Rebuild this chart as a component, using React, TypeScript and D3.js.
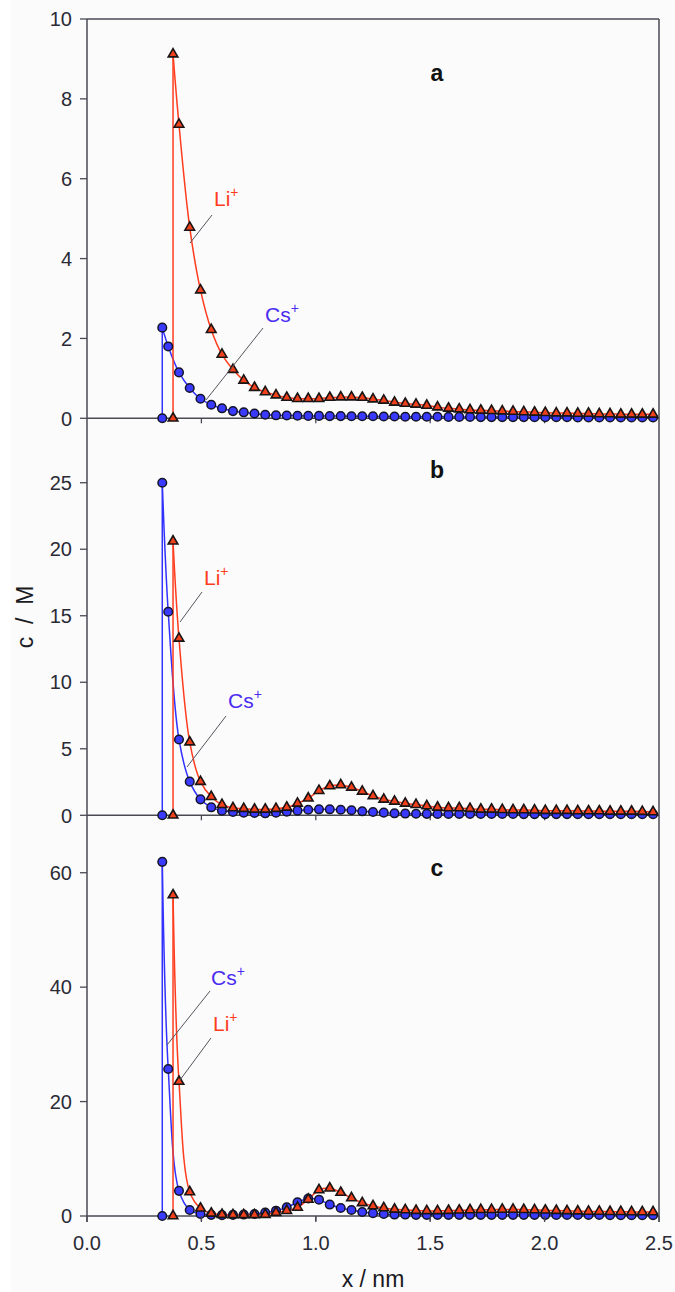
import React from 'react';
import * as d3 from 'd3';

// x positions (nm) of the regular sampling grid
const gridX = [0.402, 0.449, 0.496, 0.543, 0.590, 0.638, 0.685, 0.732, 0.779, 0.826,
  0.873, 0.920, 0.967, 1.014, 1.061, 1.109, 1.156, 1.203, 1.250, 1.297,
  1.344, 1.391, 1.438, 1.485, 1.532, 1.580, 1.627, 1.674, 1.721, 1.768,
  1.815, 1.862, 1.909, 1.956, 2.003, 2.051, 2.098, 2.145, 2.192, 2.239,
  2.286, 2.333, 2.380, 2.427, 2.474];
// first points before the grid (contact wall + peak)
const csHeadX = [0.329, 0.329, 0.355];
const liHeadX = [0.376, 0.376];

// panel a
const aCsHead = [0, 2.27, 1.8];
const aCs = [1.15, 0.76, 0.49, 0.34, 0.25, 0.18, 0.15, 0.12, 0.09, 0.075,
  0.07, 0.065, 0.06, 0.06, 0.055, 0.055, 0.05, 0.05, 0.05, 0.045,
  0.045, 0.04, 0.04, 0.04, 0.04, 0.035, 0.035, 0.035, 0.03, 0.03,
  0.03, 0.03, 0.03, 0.025, 0.025, 0.025, 0.025, 0.02, 0.02, 0.02,
  0.02, 0.02, 0.02, 0.02, 0.02];
const aLiHead = [0, 9.12];
const aLi = [7.36, 4.78, 3.21, 2.22, 1.6, 1.22, 0.95, 0.77, 0.66, 0.58,
  0.52, 0.49, 0.49, 0.49, 0.52, 0.53, 0.53, 0.52, 0.48, 0.45,
  0.40, 0.37, 0.35, 0.32, 0.28, 0.25, 0.23, 0.21, 0.2, 0.19,
  0.18, 0.17, 0.16, 0.15, 0.14, 0.13, 0.13, 0.12, 0.12, 0.11,
  0.11, 0.1, 0.1, 0.1, 0.1];

// panel b
const bCsHead = [0, 25.0, 15.3];
const bCs = [5.7, 2.53, 1.2, 0.6, 0.35, 0.25, 0.2, 0.18, 0.15, 0.2,
  0.27, 0.35, 0.42, 0.45, 0.45, 0.42, 0.38, 0.3, 0.25, 0.2,
  0.15, 0.13, 0.12, 0.11, 0.1, 0.1, 0.1, 0.1, 0.1, 0.1,
  0.1, 0.1, 0.09, 0.09, 0.09, 0.09, 0.09, 0.08, 0.08, 0.08,
  0.08, 0.08, 0.08, 0.08, 0.08];
const bLiHead = [0, 20.6];
const bLi = [13.3, 5.5, 2.53, 1.4, 0.8, 0.55, 0.5, 0.45, 0.45, 0.5,
  0.6, 0.9, 1.28, 1.85, 2.2, 2.28, 2.1, 1.8, 1.45, 1.2,
  1.05, 0.9, 0.8, 0.7, 0.6, 0.55, 0.55, 0.5, 0.45, 0.45,
  0.42, 0.4, 0.4, 0.38, 0.35, 0.35, 0.35, 0.33, 0.32, 0.32,
  0.3, 0.3, 0.3, 0.28, 0.25];

// panel c
const cCsHead = [0, 61.9, 25.7];
const cCs = [4.4, 1.05, 0.35, 0.2, 0.15, 0.2, 0.25, 0.35, 0.6, 0.93,
  1.5, 2.4, 3.05, 2.85, 2.0, 1.4, 1.05, 0.7, 0.5, 0.35,
  0.25, 0.25, 0.2, 0.2, 0.2, 0.2, 0.2, 0.2, 0.2, 0.2,
  0.2, 0.2, 0.2, 0.2, 0.2, 0.18, 0.18, 0.18, 0.18, 0.18,
  0.15, 0.15, 0.15, 0.15, 0.15];
const cLiHead = [0, 56.1];
const cLi = [23.5, 4.2, 1.35, 0.47, 0.25, 0.2, 0.2, 0.2, 0.25, 0.6,
  0.93, 1.5, 2.9, 4.55, 4.85, 4.1, 3.15, 2.3, 1.75, 1.4,
  1.17, 1.05, 0.95, 0.9, 0.9, 0.95, 1.0, 1.05, 1.1, 1.1,
  1.15, 1.15, 1.1, 1.05, 1.0, 0.95, 0.9, 0.85, 0.8, 0.8,
  0.75, 0.75, 0.7, 0.7, 0.7];

const aTicks = [0, 2, 4, 6, 8, 10];
const bTicks = [0, 5, 10, 15, 20, 25];
const cTicks = [0, 20, 40, 60];
const xTicks = [0, 0.5, 1.0, 1.5, 2.0, 2.5];

const FONT = '"Liberation Sans", Arial, Helvetica, sans-serif';
const LI_COLOR = '#ff3c1e';
const CS_COLOR = '#3232ff';
const CS_TEXT = '#4a2cf0';

type Pt = [number, number];

const zip = (xs: number[], ys: number[]): Pt[] => xs.map((x, i) => [x, ys[i]]);

const panels = [
  {
    letter: 'a', max: 10, ticks: aTicks, top: 19, zero: 418.3,
    cs: zip(csHeadX.concat(gridX), aCsHead.concat(aCs)),
    li: zip(liHeadX.concat(gridX), aLiHead.concat(aLi)),
    letterY: 81,
    labels: [
      { text: 'Li', color: LI_COLOR, x: 214, y: 206, line: [212, 215, 190, 243] },
      { text: 'Cs', color: CS_TEXT, x: 265, y: 322, line: [263, 328, 206, 400] },
    ],
  },
  {
    letter: 'b', max: 30, ticks: bTicks, top: 416.2, zero: 815.3,
    cs: zip(csHeadX.concat(gridX), bCsHead.concat(bCs)),
    li: zip(liHeadX.concat(gridX), bLiHead.concat(bLi)),
    letterY: 478,
    labels: [
      { text: 'Li', color: LI_COLOR, x: 204, y: 585, line: [202, 592, 180, 622] },
      { text: 'Cs', color: CS_TEXT, x: 228, y: 708, line: [226, 716, 187, 767] },
    ],
  },
  {
    letter: 'c', max: 70, ticks: cTicks, top: 815.5, zero: 1216,
    cs: zip(csHeadX.concat(gridX), cCsHead.concat(cCs)),
    li: zip(liHeadX.concat(gridX), cLiHead.concat(cLi)),
    letterY: 876,
    labels: [
      { text: 'Cs', color: CS_TEXT, x: 211, y: 985, line: [210, 991, 167, 1045] },
      { text: 'Li', color: LI_COLOR, x: 213, y: 1031, line: [211, 1038, 180, 1080] },
    ],
  },
];

const x = d3.scaleLinear().domain([0, 2.5]).range([87, 659]);
const triangle = d3.symbol().type(d3.symbolTriangle).size(40)();

const App = () => {
  const W = 675, H = 1292;
  const axisColor = '#4a4a55';
  const plotTop = panels[0].top;
  const plotBottom = panels[2].zero;

  return (
    <svg width={W} height={H} style={{ position: 'absolute', left: 0, top: 0, display: 'block' }}
      fontFamily={FONT}>
      <rect x={0} y={0} width={W} height={H} fill="#ffffff" />
      <rect x={11} y={0} width={W - 11} height={H} fill="#fbfbfb" />

      {panels.map((p) => {
        const y = d3.scaleLinear().domain([0, p.max]).range([p.zero, p.top]);
        const curve = d3.line<Pt>().x((d) => x(d[0])).y((d) => y(d[1]))
          .curve(d3.curveCatmullRom.alpha(0.5));
        const straight = d3.line<Pt>().x((d) => x(d[0])).y((d) => y(d[1]));
        return (
          <g key={p.letter}>
            {/* zero line */}
            <line x1={x(0)} x2={x(2.5)} y1={y(0)} y2={y(0)} stroke={axisColor} strokeWidth={1.5} />
            {xTicks.slice(1, 5).map((t) => (
              <line key={t} x1={x(t)} x2={x(t)} y1={y(0)} y2={y(0) + 5} stroke={axisColor} strokeWidth={1.3} />
            ))}
            {/* y ticks */}
            {p.ticks.map((t) => (
              <g key={t}>
                <line x1={x(0) - 7} x2={x(0)} y1={y(t)} y2={y(t)} stroke={axisColor} strokeWidth={1.3} />
                <text x={72} y={y(t)} dy="0.36em" textAnchor="end" fontSize={20} fill="#2a2a35">{t}</text>
              </g>
            ))}
            {/* curves */}
            <path d={straight(p.cs.slice(0, 2)) || ''} fill="none" stroke={CS_COLOR} strokeWidth={1.5} />
            <path d={curve(p.cs.slice(1)) || ''} fill="none" stroke={CS_COLOR} strokeWidth={1.5} />
            <path d={straight(p.li.slice(0, 2)) || ''} fill="none" stroke={LI_COLOR} strokeWidth={1.5} />
            <path d={curve(p.li.slice(1)) || ''} fill="none" stroke={LI_COLOR} strokeWidth={1.5} />
            {/* markers */}
            {p.cs.map((d, i) => (
              <circle key={'c' + i} cx={x(d[0])} cy={y(d[1])} r={4.3} fill="#3a3aff" stroke="#141428" strokeWidth={1.5} />
            ))}
            {p.li.map((d, i) => (
              <path key={'t' + i} d={triangle || ''} transform={`translate(${x(d[0])},${y(d[1])})`}
                fill="#f0401c" stroke="#1a1414" strokeWidth={1.6} />
            ))}
            {/* ion labels */}
            {p.labels.map((l) => (
              <g key={l.text}>
                <line x1={l.line[0]} y1={l.line[1]} x2={l.line[2]} y2={l.line[3]} stroke="#55555f" strokeWidth={1} />
                <text x={l.x} y={l.y} fontSize={21} fill={l.color}>
                  {l.text}
                  <tspan fontSize={14} dy={-9}>+</tspan>
                </text>
              </g>
            ))}
            <text x={437} y={p.letterY} fontSize={23} fontWeight="bold" textAnchor="middle" fill="#111">{p.letter}</text>
          </g>
        );
      })}

      {/* frame */}
      <line x1={x(0)} x2={x(0)} y1={plotTop} y2={plotBottom + 6} stroke={axisColor} strokeWidth={1.5} />
      <line x1={x(2.5)} x2={x(2.5)} y1={plotTop} y2={plotBottom + 6} stroke={axisColor} strokeWidth={1.5} />
      <line x1={x(0)} x2={x(2.5)} y1={plotTop} y2={plotTop} stroke={axisColor} strokeWidth={1.5} />
      {xTicks.map((t) => (
        <g key={t}>
          <line x1={x(t)} x2={x(t)} y1={plotBottom} y2={plotBottom + 6} stroke={axisColor} strokeWidth={1.3} />
          <text x={x(t)} y={1250} textAnchor="middle" fontSize={20} fill="#2a2a35">{t.toFixed(1)}</text>
        </g>
      ))}

      <text x={373} y={1287} textAnchor="middle" fontSize={23} fill="#1a1a22" style={{ whiteSpace: 'pre' }}>x / nm</text>
      <text transform="translate(33,617) rotate(-90)" textAnchor="middle" fontSize={23} fill="#1a1a22"
        style={{ whiteSpace: 'pre' }}>c  /  M</text>
    </svg>
  );
};

export default App;
